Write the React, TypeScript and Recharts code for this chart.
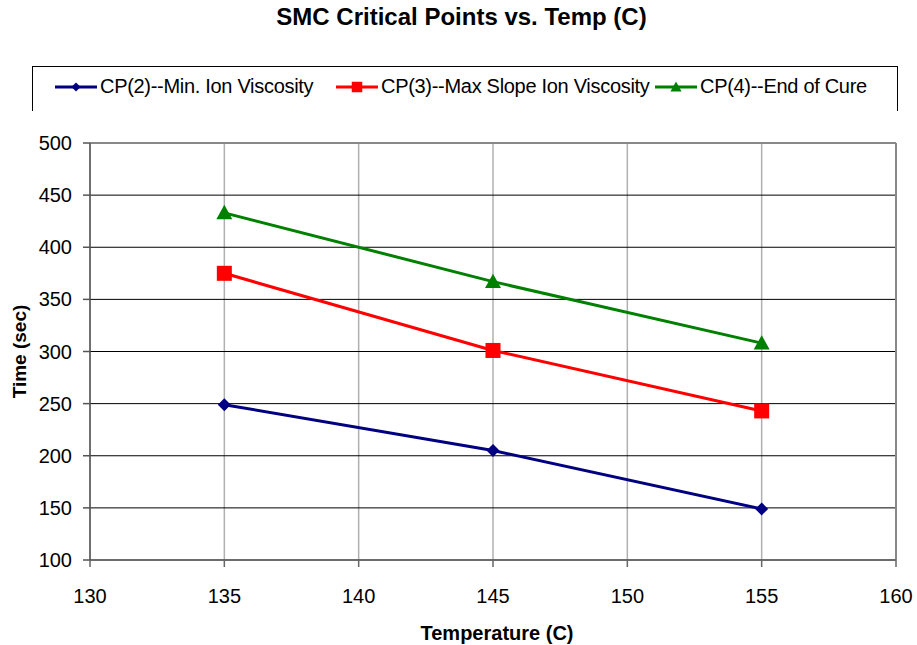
import { LineChart, Line, XAxis, YAxis, CartesianGrid, Label } from "recharts";

const temps = [135, 145, 155];
const cp2 = [249, 205, 149];
const cp3 = [375, 301, 243];
const cp4 = [433, 367, 308];
const xTicks = [130, 135, 140, 145, 150, 155, 160];
const yTicks = [100, 150, 200, 250, 300, 350, 400, 450, 500];

const data = temps.map((t, i) => ({ temp: t, cp2: cp2[i], cp3: cp3[i], cp4: cp4[i] }));

const FONT = "Arial, 'Liberation Sans', sans-serif";

const Marker = ({ cx, cy, shape, color, s = 1 }: any) => {
  if (cx == null || cy == null) return null;
  if (shape === "diamond") {
    const r = 6.5 * s;
    return <polygon points={`${cx},${cy - r} ${cx + r},${cy} ${cx},${cy + r} ${cx - r},${cy}`} fill={color} />;
  }
  if (shape === "square") {
    const r = 7.5 * s;
    return <rect x={cx - r} y={cy - r} width={2 * r} height={2 * r} fill={color} />;
  }
  const r = 8 * s;
  return <polygon points={`${cx},${cy - r} ${cx + r},${cy + 0.8 * r} ${cx - r},${cy + 0.8 * r}`} fill={color} />;
};

const SERIES = [
  { key: "cp2", name: "CP(2)--Min. Ion Viscosity", color: "#000080", shape: "diamond" },
  { key: "cp3", name: "CP(3)--Max Slope Ion Viscosity", color: "#FF0000", shape: "square" },
  { key: "cp4", name: "CP(4)--End of Cure", color: "#008000", shape: "triangle" },
];

const LegendBox = () => (
  <div
    style={{
      position: "absolute",
      top: 66,
      left: 32,
      width: 864,
      height: 44,
      borderTop: "1px solid #000",
      borderLeft: "1px solid #000",
      borderRight: "1px solid #000",
      fontFamily: FONT,
      fontSize: 20,
      color: "#000",
    }}
  >
    {SERIES.map((s, i) => (
      <div
        key={s.key}
        style={{ position: "absolute", left: [21, 302, 621][i], top: 8, display: "flex", alignItems: "center", whiteSpace: "nowrap" }}
      >
        <svg width={44} height={16}>
          <line x1={1} y1={8} x2={43} y2={8} stroke={s.color} strokeWidth={3} />
          <Marker cx={22} cy={8} shape={s.shape} color={s.color} s={0.7} />
        </svg>
        <span style={{ marginLeft: 2, letterSpacing: -0.3 }}>{s.name}</span>
      </div>
    ))}
  </div>
);

export default function App() {
  return (
    <div style={{ position: "relative", width: 917, height: 645, background: "#fff" }}>
      <style>{`body{margin:0}`}</style>
      <div
        style={{
          position: "absolute",
          top: 3,
          left: 0,
          width: 917,
          textAlign: "center",
          fontFamily: FONT,
          fontWeight: "bold",
          fontSize: 24,
          paddingLeft: 6,
          boxSizing: "border-box",
        }}
      >
        SMC Critical Points vs. Temp (C)
      </div>
      <LegendBox />
      <LineChart width={917} height={645} data={data} margin={{ top: 143, right: 21, left: 0, bottom: 0 }}>
        <CartesianGrid horizontal={false} vertical={true} stroke="#b0b0b0" strokeWidth={1.5} />
        <CartesianGrid horizontal={true} vertical={false} stroke="#000" strokeWidth={1} />
        <XAxis
          dataKey="temp"
          type="number"
          domain={[130, 160]}
          ticks={xTicks}
          height={85}
          stroke="#666"
          strokeWidth={1.5}
          tickSize={7}
          tickMargin={22}
          tick={{ fill: "#000", fontSize: 20, fontFamily: FONT }}
        >
          <Label
            value="Temperature (C)"
            position="insideBottom"
            offset={5}
            dx={4}
            style={{ fill: "#000", fontSize: 20, fontWeight: "bold", fontFamily: FONT }}
          />
        </XAxis>
        <YAxis
          type="number"
          domain={[100, 500]}
          ticks={yTicks}
          width={90}
          stroke="#555"
          strokeWidth={1.5}
          tickSize={7}
          tickMargin={11}
          tick={{ fill: "#000", fontSize: 20, fontFamily: FONT }}
        >
          <Label
            value="Time (sec)"
            angle={-90}
            position="insideLeft"
            offset={19}
            style={{ fill: "#000", fontSize: 19, fontWeight: "bold", fontFamily: FONT, textAnchor: "middle" }}
          />
        </YAxis>
        {SERIES.map((s) => (
          <Line
            key={s.key}
            dataKey={s.key}
            name={s.name}
            stroke={s.color}
            strokeWidth={3}
            isAnimationActive={false}
            dot={(p: any) => <Marker key={`${s.key}-${p.index}`} cx={p.cx} cy={p.cy} shape={s.shape} color={s.color} />}
            activeDot={false}
          />
        ))}
        <line x1={90} y1={143} x2={896} y2={143} stroke="#888" strokeWidth={2} />
        <line x1={896} y1={143} x2={896} y2={560} stroke="#888" strokeWidth={2} />
      </LineChart>
    </div>
  );
}
